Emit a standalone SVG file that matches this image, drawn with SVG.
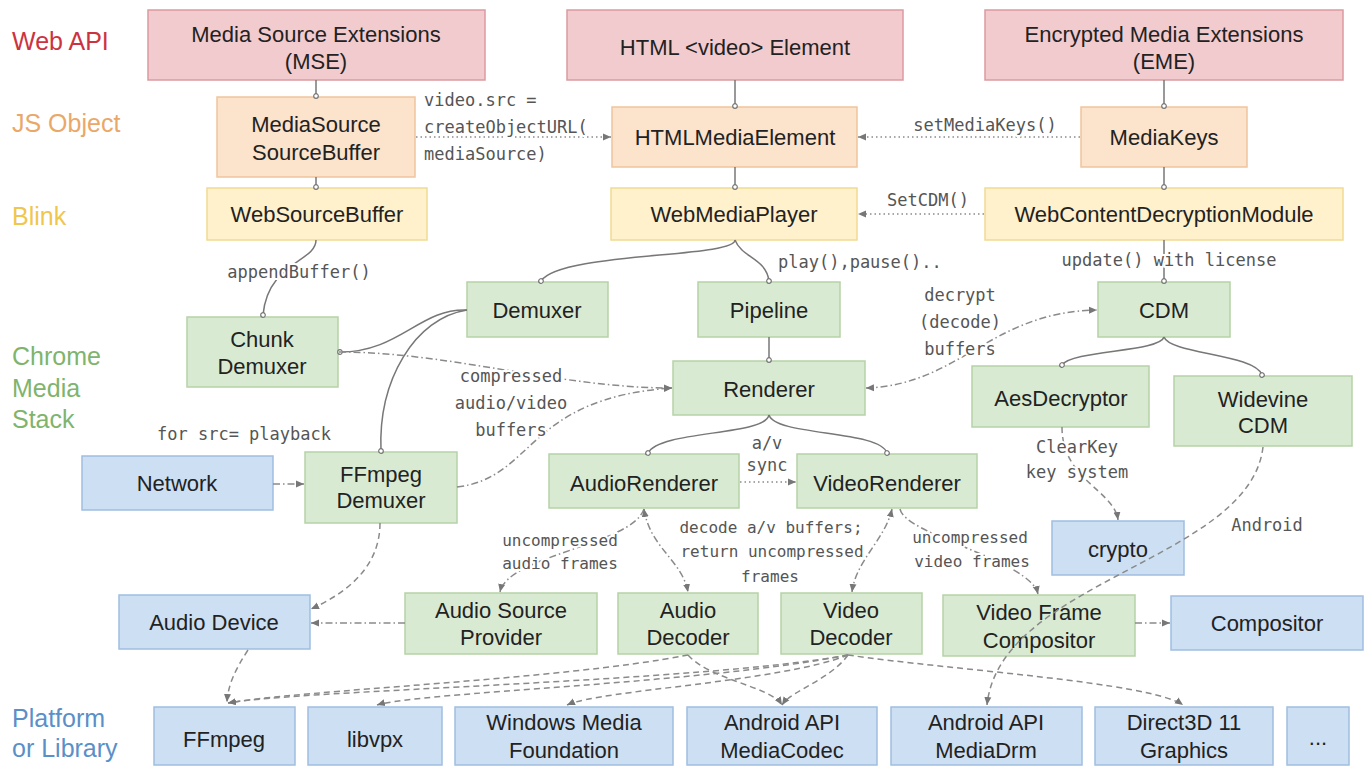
<svg xmlns="http://www.w3.org/2000/svg" width="1369" height="767" viewBox="0 0 1369 767">
<style>
.web{fill:#f2cbce;stroke:#dc9aa0;stroke-width:1.5}
.js{fill:#fbe3cc;stroke:#efc59c;stroke-width:1.5}
.blink{fill:#fff1cc;stroke:#f1da92;stroke-width:1.5}
.cms{fill:#d9ead3;stroke:#b5d2a6;stroke-width:1.5}
.plat{fill:#cddff2;stroke:#9fbee0;stroke-width:1.5}
.n{font-family:"Liberation Sans",Arial,sans-serif;font-size:22px;fill:#222;text-anchor:middle}
.lab{font-family:"Liberation Sans",Arial,sans-serif;font-size:25px}
.m{font-family:"DejaVu Sans Mono","Liberation Mono",monospace;font-size:17px;fill:#555;paint-order:stroke;stroke:#fff;stroke-width:4px;stroke-linejoin:round}
.ms{font-size:16px}
.c{text-anchor:middle}
.solid{fill:none;stroke:#777;stroke-width:1.5;marker-end:url(#dot)}
.dot{fill:none;stroke:#8a8a8a;stroke-width:1.5;stroke-dasharray:1.5 3;marker-end:url(#arr)}
.dd{fill:none;stroke:#8a8a8a;stroke-width:1.5;stroke-dasharray:7 3 1.5 3;marker-end:url(#arr)}
.dash{fill:none;stroke:#8a8a8a;stroke-width:1.5;stroke-dasharray:6 4;marker-end:url(#arr)}
.both{marker-start:url(#arrs)}
</style>
<defs>
<marker id="arr" markerWidth="9" markerHeight="8" refX="8" refY="4" orient="auto" markerUnits="userSpaceOnUse"><path d="M0,0.5 L8,4 L0,7.5 Z" fill="#777"/></marker>
<marker id="arrs" markerWidth="9" markerHeight="8" refX="1" refY="4" orient="auto" markerUnits="userSpaceOnUse"><path d="M9,0.5 L1,4 L9,7.5 Z" fill="#777"/></marker>
<marker id="dot" markerWidth="7" markerHeight="7" refX="3.5" refY="3.5" orient="auto" markerUnits="userSpaceOnUse"><circle cx="3.5" cy="3.5" r="2.3" fill="#fff" stroke="#777" stroke-width="1.2"/></marker>
</defs>
<rect width="1369" height="767" fill="#fff"/>

<g id="layer-labels">
<text class="lab" x="12" y="50" fill="#cc3340">Web API</text>
<text class="lab" x="12" y="132" fill="#eaa868">JS Object</text>
<text class="lab" x="12" y="225" fill="#efc64e">Blink</text>
<text class="lab" x="12" y="365" fill="#80b46c">Chrome</text>
<text class="lab" x="12" y="397" fill="#80b46c">Media</text>
<text class="lab" x="12" y="428" fill="#80b46c">Stack</text>
<text class="lab" x="12" y="727" fill="#5b8fc7">Platform</text>
<text class="lab" x="12" y="757" fill="#5b8fc7">or Library</text>
</g>

<g id="mse"><rect class="web" x="148" y="10" width="337" height="70"/><text class="n" x="316" y="42">Media Source Extensions</text><text class="n" x="316" y="69">(MSE)</text></g>
<g id="html-video"><rect class="web" x="567" y="10" width="336" height="70"/><text class="n" x="735" y="55">HTML &lt;video&gt; Element</text></g>
<g id="eme"><rect class="web" x="985" y="10" width="358" height="70"/><text class="n" x="1164" y="42">Encrypted Media Extensions</text><text class="n" x="1164" y="69">(EME)</text></g>

<g id="mediasource"><rect class="js" x="217" y="97" width="198" height="80"/><text class="n" x="316" y="132">MediaSource</text><text class="n" x="316" y="160">SourceBuffer</text></g>
<g id="htmlmediaelement"><rect class="js" x="612" y="107" width="245" height="60"/><text class="n" x="735" y="145">HTMLMediaElement</text></g>
<g id="mediakeys"><rect class="js" x="1081" y="107" width="166" height="60"/><text class="n" x="1164" y="145">MediaKeys</text></g>

<g id="websourcebuffer"><rect class="blink" x="207" y="188" width="220" height="52"/><text class="n" x="317" y="222">WebSourceBuffer</text></g>
<g id="webmediaplayer"><rect class="blink" x="611" y="188" width="246" height="52"/><text class="n" x="734" y="222">WebMediaPlayer</text></g>
<g id="wcdm"><rect class="blink" x="985" y="188" width="358" height="52"/><text class="n" x="1164" y="222">WebContentDecryptionModule</text></g>

<g id="demuxer"><rect class="cms" x="467" y="282" width="141" height="55"/><text class="n" x="537" y="318">Demuxer</text></g>
<g id="pipeline"><rect class="cms" x="698" y="282" width="142" height="55"/><text class="n" x="769" y="318">Pipeline</text></g>
<g id="cdm"><rect class="cms" x="1098" y="282" width="132" height="55"/><text class="n" x="1164" y="318">CDM</text></g>
<g id="chunkdemuxer"><rect class="cms" x="187" y="317" width="151" height="70"/><text class="n" x="262" y="347">Chunk</text><text class="n" x="262" y="374">Demuxer</text></g>
<g id="renderer"><rect class="cms" x="673" y="361" width="192" height="54"/><text class="n" x="769" y="397">Renderer</text></g>
<g id="aesdecryptor"><rect class="cms" x="972" y="366" width="177" height="61"/><text class="n" x="1061" y="406">AesDecryptor</text></g>
<g id="widevine"><rect class="cms" x="1174" y="376" width="178" height="70"/><text class="n" x="1263" y="407">Widevine</text><text class="n" x="1263" y="433">CDM</text></g>
<g id="network"><rect class="plat" x="82" y="456" width="191" height="54"/><text class="n" x="177" y="491">Network</text></g>
<g id="ffmpegdemuxer"><rect class="cms" x="305" y="452" width="152" height="71"/><text class="n" x="381" y="482">FFmpeg</text><text class="n" x="381" y="508">Demuxer</text></g>
<g id="audiorenderer"><rect class="cms" x="549" y="454" width="190" height="54"/><text class="n" x="644" y="491">AudioRenderer</text></g>
<g id="videorenderer"><rect class="cms" x="797" y="454" width="180" height="54"/><text class="n" x="887" y="491">VideoRenderer</text></g>
<g id="crypto"><rect class="plat" x="1052" y="521" width="132" height="54"/><text class="n" x="1118" y="557">crypto</text></g>
<g id="audiodevice"><rect class="plat" x="119" y="595" width="191" height="54"/><text class="n" x="214" y="630">Audio Device</text></g>
<g id="audiosourceprovider"><rect class="cms" x="405" y="593" width="192" height="61"/><text class="n" x="501" y="618">Audio Source</text><text class="n" x="501" y="645">Provider</text></g>
<g id="audiodecoder"><rect class="cms" x="618" y="593" width="140" height="61"/><text class="n" x="688" y="618">Audio</text><text class="n" x="688" y="645">Decoder</text></g>
<g id="videodecoder"><rect class="cms" x="781" y="593" width="141" height="61"/><text class="n" x="851" y="618">Video</text><text class="n" x="851" y="645">Decoder</text></g>
<g id="videoframecompositor"><rect class="cms" x="943" y="595" width="192" height="61"/><text class="n" x="1039" y="620">Video Frame</text><text class="n" x="1039" y="648">Compositor</text></g>
<g id="compositor"><rect class="plat" x="1171" y="596" width="192" height="54"/><text class="n" x="1267" y="631">Compositor</text></g>

<g id="ffmpeg"><rect class="plat" x="154" y="707" width="141" height="58"/><text class="n" x="224" y="747">FFmpeg</text></g>
<g id="libvpx"><rect class="plat" x="308" y="707" width="134" height="58"/><text class="n" x="375" y="747">libvpx</text></g>
<g id="wmf"><rect class="plat" x="455" y="707" width="218" height="58"/><text class="n" x="564" y="730">Windows Media</text><text class="n" x="564" y="758">Foundation</text></g>
<g id="mediacodec"><rect class="plat" x="687" y="707" width="190" height="58"/><text class="n" x="782" y="730">Android API</text><text class="n" x="782" y="758">MediaCodec</text></g>
<g id="mediadrm"><rect class="plat" x="891" y="707" width="191" height="58"/><text class="n" x="986" y="730">Android API</text><text class="n" x="986" y="758">MediaDrm</text></g>
<g id="direct3d"><rect class="plat" x="1095" y="707" width="178" height="58"/><text class="n" x="1184" y="730">Direct3D 11</text><text class="n" x="1184" y="758">Graphics</text></g>
<g id="more"><rect class="plat" x="1287" y="707" width="62" height="58"/><text class="n" x="1318" y="745">...</text></g>

<g id="connectors">
<path class="solid" d="M316,80 L316,96"/>
<path class="solid" d="M316,177 L316,187"/>
<path class="solid" d="M316,240 C316,262 268,262 263,315"/>
<path class="solid" d="M735,80 L735,106"/>
<path class="solid" d="M735,167 L735,187"/>
<path class="solid" d="M1164,80 L1164,106"/>
<path class="solid" d="M1164,167 L1164,187"/>
<path class="solid" d="M735,240 C735,258 560,252 541,281"/>
<path class="solid" d="M735,240 C742,258 766,258 769,281"/>
<path class="solid" d="M1164,240 L1164,281"/>
<path class="solid" d="M467,310 C420,308 400,352 340,352"/>
<path class="solid" d="M467,310 C415,318 378,380 381,451"/>
<path class="solid" d="M769,337 L769,360"/>
<path class="solid" d="M1164,337 C1160,352 1072,350 1062,365"/>
<path class="solid" d="M1164,337 C1170,354 1255,354 1262,375"/>
<path class="solid" d="M769,415 C765,436 660,430 648,453"/>
<path class="solid" d="M769,415 C775,436 880,430 887,453"/>

<path class="dot" d="M416,137 L611,137"/>
<path class="dot" d="M1080,137 L858,137"/>
<path class="dot" d="M984,214 L858,214"/>
<path class="dot" d="M740,482 L796,482"/>

<path class="dd" d="M339,352 C450,352 560,388 672,388"/>
<path class="dd" d="M457,487 C535,478 525,398 672,388"/>
<path class="dd both" d="M866,388 C960,385 990,312 1097,310"/>
<path class="dd" d="M273,484 L304,484"/>
<path class="dd" d="M405,623 L311,623"/>
<path class="dd" d="M1135,623 L1170,623"/>
<path class="dd" d="M644,509 C632,545 508,555 500,592"/>
<path class="dd both" d="M644,509 C650,548 682,560 688,592"/>
<path class="dd both" d="M892,509 C885,540 856,560 852,592"/>
<path class="dd" d="M900,509 C905,535 1030,560 1038,594"/>

<path class="dash" d="M1062,427 C1062,480 1114,490 1118,520"/>
<path class="dash" d="M1263,447 C1250,560 1000,580 987,705"/>
<path class="dash" d="M380,523 C380,570 342,595 311,609"/>
<path class="dash" d="M248,650 C235,670 228,685 227,702"/>
<path class="dash" d="M688,655 C560,680 300,690 228,703"/>
<path class="dash" d="M848,655 C700,682 300,690 228,703"/>
<path class="dash" d="M848,655 C700,684 420,692 377,705"/>
<path class="dash" d="M848,655 C780,682 600,690 567,705"/>
<path class="dash" d="M688,655 C710,680 770,686 782,705"/>
<path class="dash" d="M848,655 C830,680 792,690 782,705"/>
<path class="dash" d="M848,655 C950,670 1150,682 1183,705"/>
</g>

<g id="edge-labels">
<text class="m" x="424" y="106">video.src =</text>
<text class="m" x="424" y="133">createObjectURL(</text>
<text class="m" x="424" y="160">mediaSource)</text>
<text class="m c" x="985" y="131">setMediaKeys()</text>
<text class="m c" x="928" y="206">SetCDM()</text>
<text class="m c" x="299" y="278">appendBuffer()</text>
<text class="m" x="778" y="268">play(),pause()..</text>
<text class="m c" x="1169" y="266">update() with license</text>
<text class="m c" x="960" y="301">decrypt</text>
<text class="m c" x="960" y="328">(decode)</text>
<text class="m c" x="960" y="355">buffers</text>
<text class="m c" x="511" y="382">compressed</text>
<text class="m c" x="511" y="409">audio/video</text>
<text class="m c" x="511" y="436">buffers</text>
<text class="m c" x="244" y="440">for src= playback</text>
<text class="m c" x="767" y="449">a/v</text>
<text class="m c" x="767" y="471">sync</text>
<text class="m c" x="1077" y="453">ClearKey</text>
<text class="m c" x="1077" y="478">key system</text>
<text class="m ms c" x="560" y="546">uncompressed</text>
<text class="m ms c" x="560" y="569">audio frames</text>
<text class="m ms c" x="771" y="533">decode a/v buffers;</text>
<text class="m ms c" x="772" y="557">return uncompressed</text>
<text class="m ms c" x="770" y="582">frames</text>
<text class="m ms c" x="970" y="543">uncompressed</text>
<text class="m ms c" x="972" y="567">video frames</text>
<text class="m c" x="1267" y="531">Android</text>
</g>
</svg>
